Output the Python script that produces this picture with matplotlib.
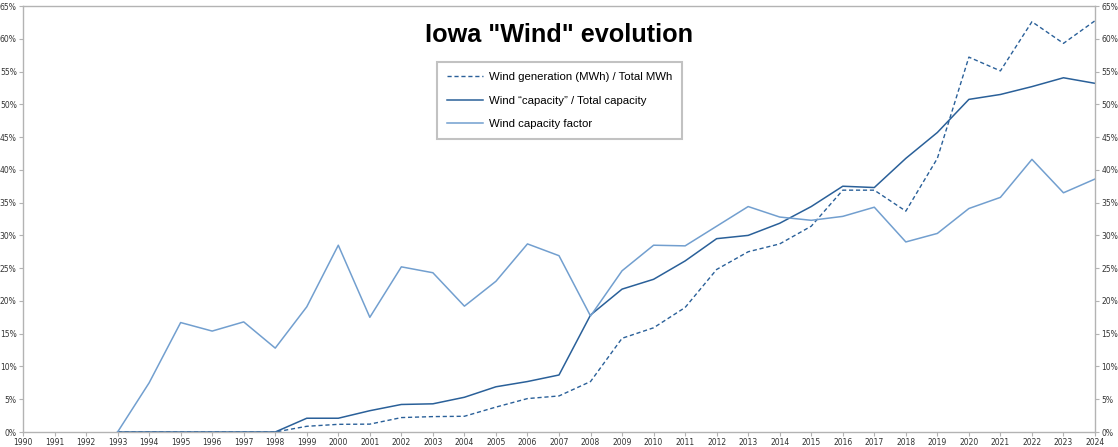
import numpy as np
import matplotlib
matplotlib.use("Agg")
import matplotlib.pyplot as plt
from matplotlib.ticker import FuncFormatter, MultipleLocator

years = list(range(1990, 2025))
nan = np.nan

gen_share = [nan, nan, nan, 0.0, 0.0, 0.0, 0.0, 0.0, 0.0,
             0.87, 1.17, 1.2, 2.2, 2.35, 2.4, 3.8, 5.1, 5.5, 7.7,
             14.3, 15.9, 19.0, 24.8, 27.5, 28.7, 31.4, 36.9, 36.9, 33.7,
             41.75, 57.2, 55.1, 62.6, 59.3, 62.75]

cap_share = [nan, nan, nan, 0.0, 0.0, 0.0, 0.0, 0.0, 0.0,
             2.1, 2.1, 3.25, 4.2, 4.3, 5.3, 6.9, 7.7, 8.7, 17.85,
             21.8, 23.3, 26.1, 29.5, 30.0, 31.85, 34.4, 37.5, 37.3, 41.75,
             45.7, 50.75, 51.5, 52.7, 54.05, 53.2]

cap_factor = [nan, nan, nan, 0.0, 7.5, 16.7, 15.4, 16.8, 12.8,
              19.1, 28.5, 17.5, 25.2, 24.3, 19.2, 23.0, 28.7, 26.9, 17.7,
              24.6, 28.5, 28.4, 31.4, 34.4, 32.8, 32.3, 32.9, 34.3, 29.0,
              30.3, 34.1, 35.8, 41.6, 36.5, 38.6]

labels = ["Wind generation (MWh) / Total MWh",
          "Wind \u201ccapacity\u201d / Total capacity",
          "Wind capacity factor"]
title = 'Iowa "Wind" evolution'

plt.rcParams['font.family'] = ['DejaVu Sans']

fig = plt.figure(figsize=(11.18, 4.47), dpi=100)
ax = fig.add_axes([23/1118, 15/447, (1095-23)/1118, (432-6)/447])

dark = "#2a6099"
light = "#729fcf"

ax.plot(years, gen_share, color=dark, lw=1.0, ls=(0, (3, 2)), label=labels[0])
ax.plot(years, cap_share, color=dark, lw=1.1, label=labels[1])
ax.plot(years, cap_factor, color=light, lw=1.1, label=labels[2])

ax.set_xlim(1990, 2024)
ax.set_ylim(0, 65)
ax.set_xticks(years)
ax.set_xticklabels([str(y) for y in years])
ax.yaxis.set_major_locator(MultipleLocator(5))
ax.yaxis.set_major_formatter(FuncFormatter(lambda v, p: f"{int(round(v))}%"))

for s in ax.spines.values():
    s.set_color("#b3b3b3")
    s.set_linewidth(1.0)

ax.tick_params(axis='both', which='both', labelsize=5.5, colors="#b3b3b3",
               labelcolor="#333333", length=3, width=0.8, pad=1.5)
ax.tick_params(axis='y', left=True, right=True, labelleft=True, labelright=True)

fig.text(559/1118, 1 - 35/447, title, ha='center', va='center',
         fontsize=18.2, fontweight='bold', family='Liberation Sans')

leg = ax.legend(loc='upper center', frameon=True,
                handlelength=3.2, handletextpad=0.5, borderpad=0.85,
                labelspacing=1.22, borderaxespad=0,
                fancybox=False, edgecolor="#b3b3b3",
                prop={'family': 'Liberation Sans', 'size': 8.2})
leg.set_bbox_to_anchor((559.5/1118, 1 - 62/447), transform=fig.transFigure)
leg.get_frame().set_linewidth(1.5)

fig.savefig("out.png", dpi=100)
